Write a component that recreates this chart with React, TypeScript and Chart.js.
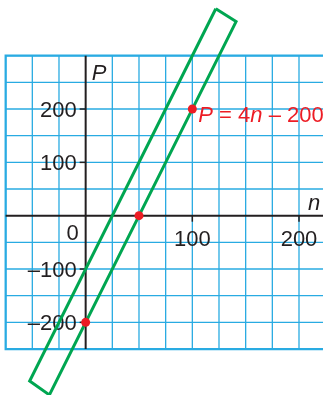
import React, { useEffect, useRef } from 'react';
import { Chart, registerables } from 'chart.js';
Chart.register(...registerables);

// Axis extents (data units) of the whole picture
const nExtent = [-80.3, 222.5];
const pExtent = [-336.2, 404.4];
// Grid
const gridN = [-75, -50, -25, 25, 50, 75, 100, 125, 150, 175, 200];
const gridP = [-250, -200, -150, -100, -50, 50, 100, 150, 200, 250, 300];
const gridNMin = -75;
const gridPMin = -250;
const gridPMax = 300;
// Tick labels
const nTicks = [100, 200];
const nTickLabels = ['100', '200'];
const pTicks = [200, 100, -100, -200];
const pTickLabels = ['200', '100', '\u2013100', '\u2013200'];
// Points on P = 4n - 200
const pointN = [0, 50, 100];
const pointP = [-200, 0, 200];
// Green strip corners
const stripN = [122, 141, -34, -52.5, 122];
const stripP = [388, 364, -336, -310, 388];

const GRID = '#29ABE2';
const AXIS = '#231F20';
const RED = '#ED1C24';
const GREEN = '#00A651';
const FONT = '"Liberation Sans", Arial, sans-serif';

const drawPlugin = {
  id: 'gridAxes',
  beforeDatasetsDraw(chart: any) {
    const { ctx, chartArea } = chart;
    const xs = chart.scales.x;
    const ys = chart.scales.y;
    const px = (v: number) => xs.getPixelForValue(v);
    const py = (v: number) => ys.getPixelForValue(v);
    const right = chartArea.right;
    ctx.save();
    ctx.strokeStyle = GRID;
    ctx.lineWidth = 1.3;
    gridN.forEach((v) => {
      ctx.beginPath();
      ctx.moveTo(px(v), py(gridPMax));
      ctx.lineTo(px(v), py(gridPMin));
      ctx.stroke();
    });
    gridP.forEach((v) => {
      ctx.beginPath();
      ctx.moveTo(px(gridNMin), py(v));
      ctx.lineTo(right, py(v));
      ctx.stroke();
    });
    // border
    ctx.lineWidth = 2.2;
    ctx.beginPath();
    ctx.moveTo(right, py(gridPMax));
    ctx.lineTo(px(gridNMin), py(gridPMax));
    ctx.lineTo(px(gridNMin), py(gridPMin));
    ctx.lineTo(right, py(gridPMin));
    ctx.stroke();

    // axes
    ctx.strokeStyle = AXIS;
    ctx.lineWidth = 2;
    ctx.beginPath();
    ctx.moveTo(px(gridNMin), py(0));
    ctx.lineTo(right, py(0));
    ctx.moveTo(px(0), py(gridPMax));
    ctx.lineTo(px(0), py(gridPMin));
    ctx.stroke();
    ctx.lineWidth = 1.5;
    pTicks.forEach((v) => {
      ctx.beginPath();
      ctx.moveTo(px(0) - 6, py(v));
      ctx.lineTo(px(0), py(v));
      ctx.stroke();
    });
    nTicks.forEach((v) => {
      ctx.beginPath();
      ctx.moveTo(px(v), py(0));
      ctx.lineTo(px(v), py(0) + 6);
      ctx.stroke();
    });

    // labels
    ctx.fillStyle = AXIS;
    ctx.font = `22px ${FONT}`;
    ctx.textBaseline = 'alphabetic';
    ctx.textAlign = 'right';
    pTicks.forEach((v, i) => {
      ctx.fillText(pTickLabels[i], px(0) - 9, py(v) + 8);
    });
    ctx.fillText('0', px(0) - 7, py(0) + 24);
    ctx.textAlign = 'center';
    nTicks.forEach((v, i) => {
      ctx.fillText(nTickLabels[i], px(v), py(0) + 30);
    });
    ctx.textAlign = 'left';
    ctx.font = `italic 22px ${FONT}`;
    ctx.fillText('P', px(0) + 6, py(gridPMax) + 24);
    ctx.fillText('n', right - 15, py(0) - 6);
    ctx.restore();
  },
  afterDatasetsDraw(chart: any) {
    const { ctx } = chart;
    const xs = chart.scales.x;
    const ys = chart.scales.y;
    let x = xs.getPixelForValue(pointN[2]) + 6;
    const y = ys.getPixelForValue(pointP[2]) + 13;
    ctx.save();
    ctx.fillStyle = RED;
    ctx.textAlign = 'left';
    ctx.textBaseline = 'alphabetic';
    const parts: [string, boolean][] = [
      ['P', true],
      [' = 4', false],
      ['n', true],
      [' \u2013 200', false],
    ];
    parts.forEach(([t, it]) => {
      ctx.font = `${it ? 'italic ' : ''}22px ${FONT}`;
      ctx.fillText(t, x, y);
      x += ctx.measureText(t).width;
    });
    ctx.restore();
  },
};

export default function App() {
  const ref = useRef<HTMLCanvasElement>(null);
  useEffect(() => {
    if (!ref.current) return;
    const chart = new Chart(ref.current, {
      type: 'scatter',
      data: {
        datasets: [
          {
            data: pointN.map((n, i) => ({ x: n, y: pointP[i] })),
            backgroundColor: RED,
            borderColor: RED,
            pointRadius: 4.5,
            pointBorderWidth: 0,
            showLine: false,
            clip: false,
            order: 0,
          },
          {
            data: stripN.map((n, i) => ({ x: n, y: stripP[i] })),
            borderColor: GREEN,
            borderWidth: 3,
            pointRadius: 0,
            showLine: true,
            fill: false,
            tension: 0,
            clip: false,
            order: 1,
          } as any,
        ],
      },
      options: {
        animation: false,
        responsive: false,
        devicePixelRatio: 1,
        layout: { padding: 0, autoPadding: false },
        plugins: { legend: { display: false }, tooltip: { enabled: false } },
        events: [],
        scales: {
          x: { type: 'linear', min: nExtent[0], max: nExtent[1], display: false },
          y: { type: 'linear', min: pExtent[0], max: pExtent[1], display: false },
        },
      },
      plugins: [drawPlugin],
    });
    return () => chart.destroy();
  }, []);
  return (
    <div style={{ position: 'fixed', left: 0, top: 0, width: 323, height: 395, background: '#fff' }}>
      <canvas ref={ref} width={323} height={395} />
    </div>
  );
}
